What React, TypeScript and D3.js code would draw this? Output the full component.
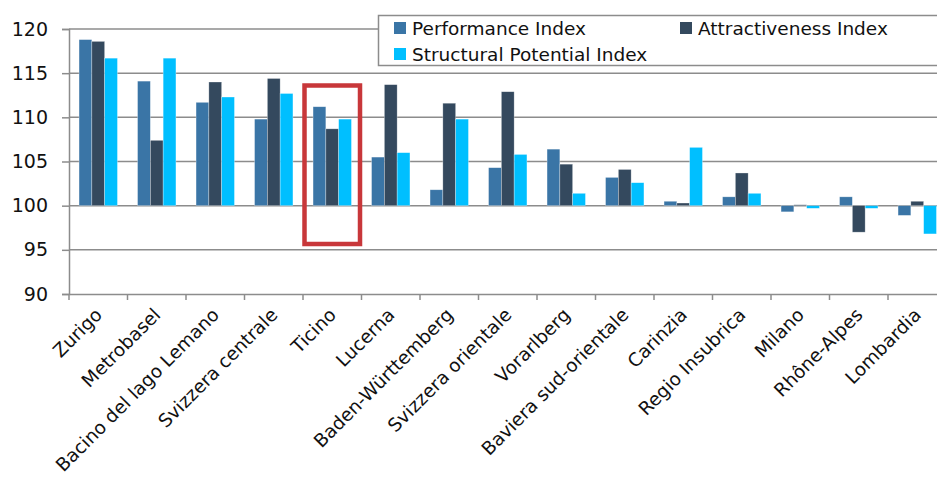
import React, { useRef, useEffect } from 'react';
import * as d3 from 'd3';

const categories = [
  'Zurigo', 'Metrobasel', 'Bacino del lago Lemano', 'Svizzera centrale', 'Ticino',
  'Lucerna', 'Baden-Württemberg', 'Svizzera orientale', 'Vorarlberg', 'Baviera sud-orientale',
  'Carinzia', 'Regio Insubrica', 'Milano', 'Rhône-Alpes', 'Lombardia'
];
const seriesNames = ['Performance Index', 'Attractiveness Index', 'Structural Potential Index'];
const performance = [118.8, 114.1, 111.7, 109.8, 111.2, 105.5, 101.8, 104.3, 106.4, 103.2, 100.5, 101.0, 99.3, 101.0, 98.9];
const attractiveness = [118.6, 107.4, 114.0, 114.4, 108.7, 113.7, 111.6, 112.9, 104.7, 104.1, 100.3, 103.7, 100.1, 97.0, 100.5];
const structural = [116.7, 116.7, 112.3, 112.7, 109.8, 106.0, 109.8, 105.8, 101.4, 102.6, 106.6, 101.4, 99.7, 99.7, 96.8];
const yTicks = [90, 95, 100, 105, 110, 115, 120];
const colors = ['#3a75a6', '#34495e', '#00bfff'];
const highlighted = 'Ticino';

const FONT = '"DejaVu Sans", sans-serif';

const BarChart = () => {
  const ref = useRef<SVGSVGElement>(null);

  useEffect(() => {
    const width = 937;
    const height = 477;
    const svg = d3.select(ref.current).attr('width', width).attr('height', height);
    svg.selectAll('*').remove();

    const left = 69;
    const bandW = 58.5;
    const right = left + bandW * categories.length;

    const x = d3.scaleBand().domain(categories).range([left, right]).padding(0);
    const groupW = 38.4;
    const x1 = d3.scaleBand().domain(seriesNames)
      .range([(x.bandwidth() - groupW) / 2, (x.bandwidth() + groupW) / 2]);
    const y = d3.scaleLinear().domain([90, 120]).range([294, 29]);

    // gridlines
    svg.append('g')
      .selectAll('line')
      .data(yTicks.filter(t => t !== 90))
      .enter().append('line')
      .attr('x1', left).attr('x2', right)
      .attr('y1', d => y(d)).attr('y2', d => y(d))
      .attr('stroke', '#8c8c8c').attr('stroke-width', 1.5);

    // y axis
    const yAxis = svg.append('g')
      .attr('transform', `translate(${left},0)`)
      .call(d3.axisLeft(y).tickValues(yTicks).tickSize(7).tickPadding(14));
    yAxis.select('.domain').attr('stroke', '#8c8c8c').attr('stroke-width', 1.5);
    yAxis.selectAll('.tick line').attr('stroke', '#8c8c8c').attr('stroke-width', 1.5);
    yAxis.selectAll('text').attr('font-family', FONT).attr('font-size', 19).attr('fill', '#111');

    // x axis
    const xAxis = svg.append('g')
      .attr('transform', `translate(0,${y(90)})`)
      .call(d3.axisBottom(x).tickSize(0).tickFormat(() => ''));
    xAxis.select('.domain').attr('stroke', '#8c8c8c').attr('stroke-width', 1.5);
    xAxis.selectAll('.tick').remove();
    svg.append('g')
      .selectAll('line')
      .data(d3.range(categories.length + 1))
      .enter().append('line')
      .attr('x1', i => left + i * x.step()).attr('x2', i => left + i * x.step())
      .attr('y1', y(90)).attr('y2', y(90) + 6)
      .attr('stroke', '#8c8c8c').attr('stroke-width', 1.5);

    svg.append('g')
      .selectAll('text')
      .data(categories)
      .enter().append('text')
      .attr('transform', d => `translate(${(x(d) as number) + x.bandwidth() / 2 + 5},${y(90) + 22}) rotate(-45)`)
      .attr('text-anchor', 'end')
      .attr('font-family', FONT)
      .attr('font-size', 18.5)
      .attr('fill', '#111')
      .text(d => d);

    // bars
    const values = [performance, attractiveness, structural];
    seriesNames.forEach((s, si) => {
      svg.append('g')
        .selectAll('rect')
        .data(categories)
        .enter().append('rect')
        .attr('x', d => (x(d) as number) + (x1(s) as number))
        .attr('width', x1.bandwidth())
        .attr('y', (d, i) => Math.min(y(values[si][i]), y(100)))
        .attr('height', (d, i) => Math.abs(y(values[si][i]) - y(100)))
        .attr('fill', colors[si])
        .attr('stroke', '#ffffff').attr('stroke-opacity', 0.5).attr('stroke-width', 0.6);
    });

    // highlight box
    const hx = x(highlighted) as number;
    svg.append('rect')
      .attr('x', hx + 1.5).attr('y', 85.5)
      .attr('width', bandW - 3).attr('height', 158.5)
      .attr('fill', 'none').attr('stroke', '#c8373a').attr('stroke-width', 4.5);

    // legend
    const lg = svg.append('g');
    lg.append('rect')
      .attr('x', 378.5).attr('y', 15.5).attr('width', 600).attr('height', 50)
      .attr('fill', '#fff').attr('stroke', '#8c8c8c').attr('stroke-width', 1.5);
    const legendPos = [[394, 22], [680, 22], [394, 48]];
    seriesNames.forEach((s, i) => {
      lg.append('rect')
        .attr('x', legendPos[i][0]).attr('y', legendPos[i][1])
        .attr('width', 12).attr('height', 12).attr('fill', colors[i]);
      lg.append('text')
        .attr('x', legendPos[i][0] + 18).attr('y', legendPos[i][1] + 13)
        .attr('font-family', FONT).attr('font-size', 18.5).attr('fill', '#111')
        .text(s);
    });
  }, []);

  return <svg ref={ref} style={{ display: 'block' }} />;
};

export default function App() {
  return (
    <div style={{ position: 'absolute', left: 0, top: 0, width: 937, height: 477, overflow: 'hidden', background: '#fff' }}>
      <BarChart />
    </div>
  );
}
